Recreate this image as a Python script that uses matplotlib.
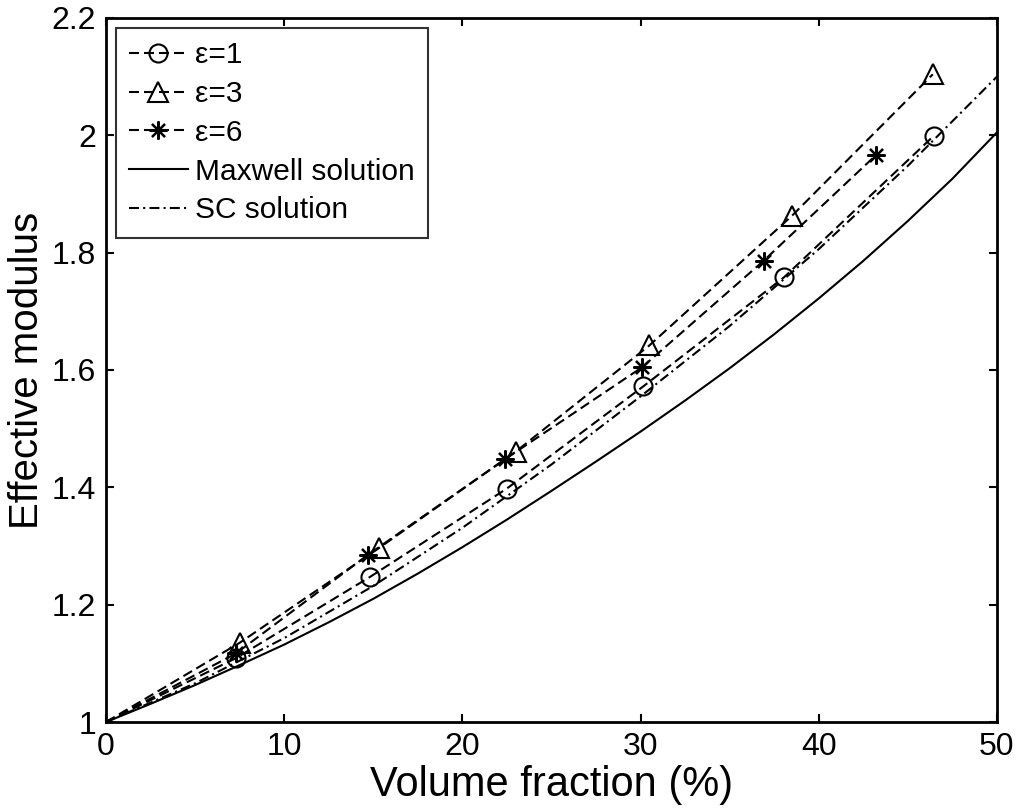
import matplotlib
matplotlib.use('Agg')
import matplotlib.pyplot as plt
import numpy as np

plt.rcParams['font.family'] = ['Liberation Sans', 'DejaVu Sans']

# volume fraction (%) and effective modulus
# every dashed curve starts at (0, 1) without a marker
x_e1 = [0, 7.3, 14.8, 22.5, 30.15, 38.05, 46.45]
y_e1 = [1.0, 1.109, 1.247, 1.398, 1.572, 1.758, 1.999]

x_e3 = [0, 7.5, 15.3, 23.0, 30.5, 38.5, 46.4]
y_e3 = [1.0, 1.135, 1.296, 1.461, 1.642, 1.863, 2.104]

x_e6 = [0, 7.3, 14.7, 22.4, 30.1, 36.9, 43.2]
y_e6 = [1.0, 1.117, 1.285, 1.448, 1.605, 1.786, 1.966]

x_maxwell = [0, 2.5, 5, 7.5, 10, 12.5, 15, 17.5, 20, 22.5, 25,
             27.5, 30, 32.5, 35, 37.5, 40, 42.5, 45, 47.5, 50]
y_maxwell = [1.000, 1.031, 1.063, 1.097, 1.132, 1.170, 1.210, 1.253, 1.298, 1.345, 1.394,
             1.444, 1.495, 1.548, 1.603, 1.661, 1.722, 1.786, 1.854, 1.926, 2.005]

x_sc = [0, 5, 10, 15, 20, 25, 30, 35, 40, 45, 50]
y_sc = [1.000, 1.066, 1.143, 1.232, 1.331, 1.439, 1.555, 1.675, 1.806, 1.948, 2.100]

fig = plt.figure(figsize=(10.22, 8.09), dpi=100)
ax = fig.add_axes([0.1037, 0.1075, 0.8718, 0.8703])

lw = 1.5
dash = (4.8, 2.4)
dashdot = (4.8, 2.0, 1.0, 2.0)
mk = list(range(1, 7))

ax.plot(x_e1, y_e1, color='k', lw=lw, dashes=dash, marker='o', markevery=mk,
        ms=13, mfc='none', mec='k', mew=1.5, label='ε=1')
ax.plot(x_e3, y_e3, color='k', lw=lw, dashes=dash, marker='^', markevery=mk,
        ms=14, mfc='none', mec='k', mew=1.5, label='ε=3')
ax.plot(x_e6, y_e6, color='k', lw=lw, dashes=dash, marker=(8, 2, 0), markevery=mk,
        ms=13, mec='k', mew=1.6, label='ε=6')
ax.plot(x_maxwell, y_maxwell, color='k', lw=lw, ls='-', label='Maxwell solution')
ax.plot(x_sc, y_sc, color='k', lw=lw, dashes=dashdot, label='SC solution')

ax.set_xlim(0, 50)
ax.set_ylim(1, 2.2)
ax.set_xticks([0, 10, 20, 30, 40, 50])
ax.set_yticks([1, 1.2, 1.4, 1.6, 1.8, 2, 2.2])
ax.set_yticklabels(['1', '1.2', '1.4', '1.6', '1.8', '2', '2.2'])

ax.tick_params(direction='in', length=6, width=1.5, top=True, right=True,
               labelsize=23, pad=7)
for s in ax.spines.values():
    s.set_linewidth(2)

ax.set_xlabel('Volume fraction (%)', fontsize=30, labelpad=2)
ax.set_ylabel('Effective modulus', fontsize=29, labelpad=4)

leg = ax.legend(loc='upper left', fontsize=21.5, fancybox=False, numpoints=1,
                handlelength=1.95, handletextpad=0.25, labelspacing=0.36,
                borderaxespad=0.33, borderpad=0.45)
leg.get_frame().set_edgecolor('k')
leg.get_frame().set_linewidth(1.5)

fig.savefig('out.png', dpi=100)
